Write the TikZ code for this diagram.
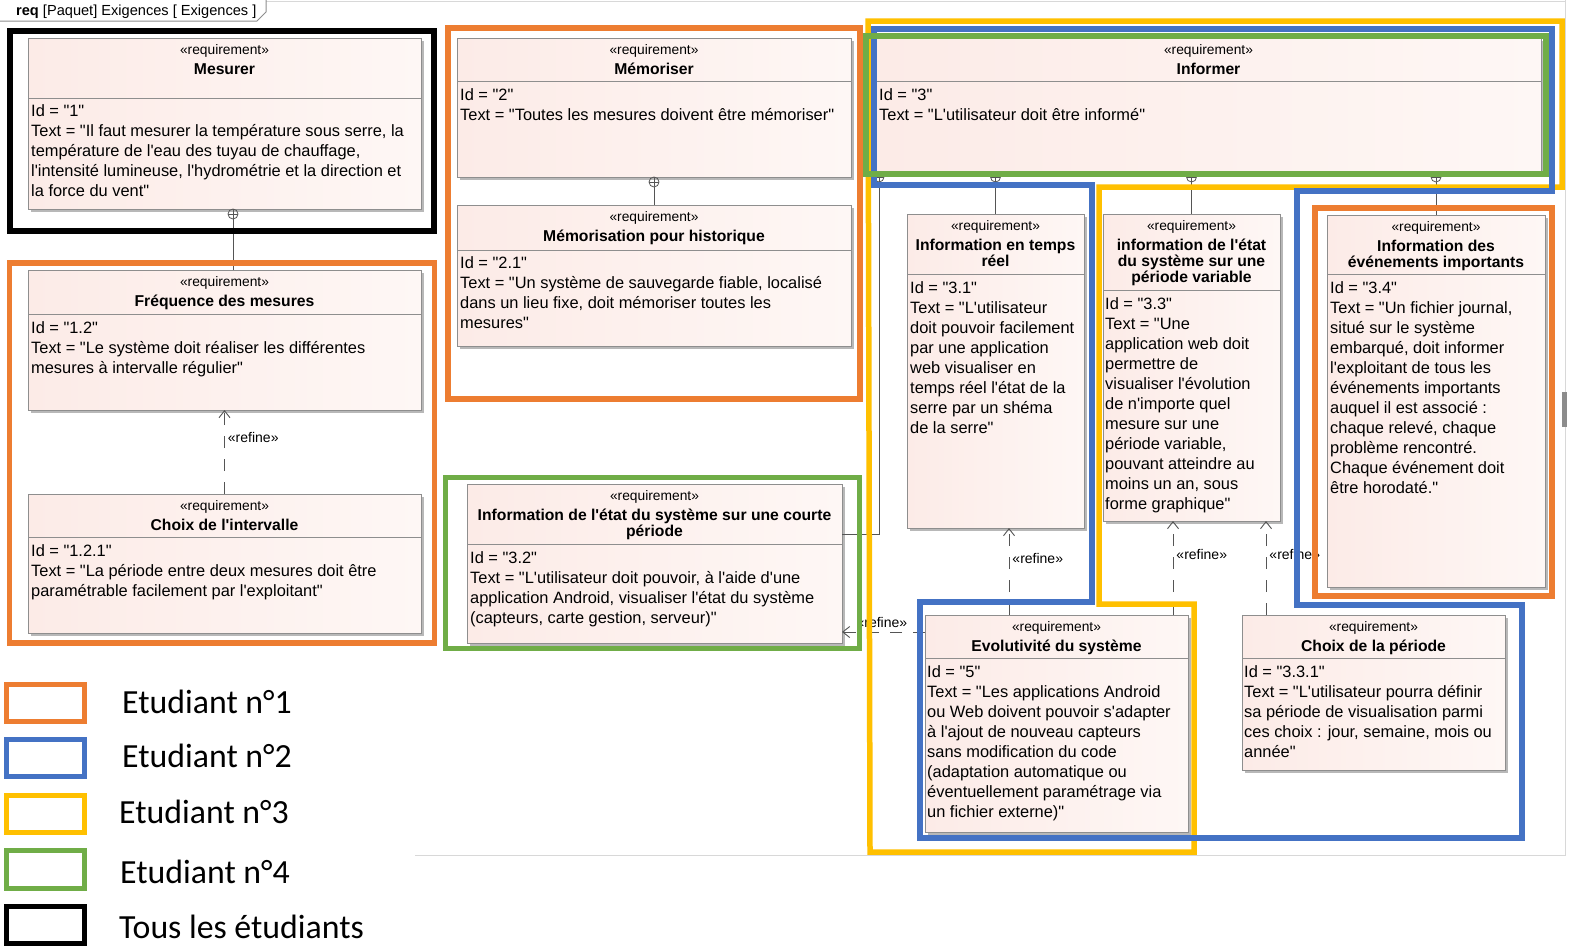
\documentclass[tikz,border=0pt]{standalone}
\usepackage{fontspec}
\setmainfont{Liberation Sans}
\newfontfamily\diagf{Liberation Sans}
\newfontfamily\legf{Carlito}
\usetikzlibrary{arrows.meta,shadows,calc}
\definecolor{hlorange}{HTML}{ED7D31}
\definecolor{hlblue}{HTML}{4472C4}
\definecolor{hlyellow}{HTML}{FFC000}
\definecolor{hlgreen}{HTML}{70AD47}
\definecolor{boxgray}{HTML}{8E8E8E}
\definecolor{reqL}{HTML}{FCEBE7}
\definecolor{reqR}{HTML}{FEF7F5}
\definecolor{conn}{HTML}{555555}
\definecolor{canvasline}{HTML}{D8D8D8}
\newcommand\bodyfont{\diagf\fontsize{16.4}{20}\selectfont\lineskiplimit=-100pt\relax}
\newcommand\titlefont{\diagf\fontsize{15.7}{16}\selectfont\bfseries\lineskiplimit=-100pt\relax}
\newcommand\stereofont{\diagf\fontsize{13.8}{15}\selectfont}
\newcommand\myBS{\rule{0pt}{18pt}}
\newcommand\myTS{\rule{0pt}{16pt}}
\tikzset{
  reqbox/.style={draw=boxgray, line width=1pt, left color=reqL, right color=reqR,
    general shadow={fill=black!28, shadow xshift=2.5pt, shadow yshift=-2.5pt},
    inner sep=0pt, outer sep=0pt, anchor=north west, rectangle},
  divline/.style={draw=boxgray, line width=1pt},
  body/.style={font=\bodyfont, align=left, inner sep=0pt, anchor=north west},
  ttl/.style={font=\titlefont, align=center, inner sep=0pt, anchor=north},
  stereo/.style={font=\stereofont, inner sep=0pt, anchor=base},
  reflabel/.style={font=\diagf\fontsize{14}{16}\selectfont, inner sep=0pt},
  refine/.style={draw=conn, line width=0.9pt, dash pattern=on 12pt off 11pt,
    -{Straight Barb[length=7pt,width=11pt]}},
  cont/.style={draw=conn, line width=0.9pt},
  oplus/.style={circle, draw=conn, line width=0.8pt, minimum size=10pt, inner sep=0pt, outer sep=0pt,
    path picture={\draw[conn, line width=0.8pt] (path picture bounding box.north) -- (path picture bounding box.south)
      (path picture bounding box.east) -- (path picture bounding box.west);}},
  hl/.style={line width=5.5pt, line join=miter},
  leg/.style={font=\legf\fontsize{33.8}{36}\selectfont, anchor=base west, inner sep=0pt},
}
\begin{document}
\begin{tikzpicture}[x=1pt,y=-1pt]
\useasboundingbox (0,0) rectangle (1570,951);
\fill[white] (0,0) rectangle (1570,951);

% canvas frame
\draw[canvasline, line width=1pt] (266,1.5) -- (1565,1.5);
\draw[canvasline, line width=1pt] (1565,0) -- (1565,855) -- (415,855);
\fill[black!45] (1562,392) rectangle (1567,427);

% diagram tab
\draw[boxgray, line width=1pt] (0,21) -- (257,21) -- (266,12) -- (266,0);
\node[font=\diagf\fontsize{14.6}{16}\selectfont, anchor=base west, inner sep=0pt] (tab) at (16,15) {\textbf{req} [Paquet] Exigences [ Exigences ]};

% ---------- Mesurer ----------
\node[reqbox, minimum width=393, minimum height=171] (mesurer) at (28,38) {};
\draw[divline] ([yshift=-60pt]mesurer.north west) -- ([yshift=-60pt]mesurer.north east);
\node[stereo] (mesurer-s) at ([yshift=-16.5pt]mesurer.north) {«requirement»};
\node[ttl] (mesurer-n) at ([yshift=-20.5pt]mesurer.north) {\myTS Mesurer};
\node[body] (mesurer-t) at ([xshift=3pt,yshift=-60pt]mesurer.north west) {\myBS Id = "1"\\Text = "Il faut mesurer la température sous serre, la\\température de l'eau des tuyau de chauffage,\\l'intensité lumineuse, l'hydrométrie et la direction et\\la force du vent"};

% ---------- Frequence ----------
\node[reqbox, minimum width=393, minimum height=140] (freq) at (28,270) {};
\draw[divline] ([yshift=-44pt]freq.north west) -- ([yshift=-44pt]freq.north east);
\node[stereo] (freq-s) at ([yshift=-16.5pt]freq.north) {«requirement»};
\node[ttl] (freq-n) at ([yshift=-20.5pt]freq.north) {\myTS Fréquence des mesures};
\node[body] (freq-t) at ([xshift=3pt,yshift=-45pt]freq.north west) {\myBS Id = "1.2"\\Text = "Le système doit réaliser les différentes\\mesures à intervalle régulier"};

% ---------- Choix intervalle ----------
\node[reqbox, minimum width=393, minimum height=139] (choixint) at (28,494) {};
\draw[divline] ([yshift=-43pt]choixint.north west) -- ([yshift=-43pt]choixint.north east);
\node[stereo] (choixint-s) at ([yshift=-16.5pt]choixint.north) {«requirement»};
\node[ttl] (choixint-n) at ([yshift=-20.5pt]choixint.north) {\myTS Choix de l'intervalle};
\node[body] (choixint-t) at ([xshift=3pt,yshift=-44pt]choixint.north west) {\myBS Id = "1.2.1"\\Text = "La période entre deux mesures doit être\\paramétrable facilement par l'exploitant"};

% ---------- Memoriser ----------
\node[reqbox, minimum width=394, minimum height=139] (memo) at (457,38) {};
\draw[divline] ([yshift=-43pt]memo.north west) -- ([yshift=-43pt]memo.north east);
\node[stereo] (memo-s) at ([yshift=-16.5pt]memo.north) {«requirement»};
\node[ttl] (memo-n) at ([yshift=-20.5pt]memo.north) {\myTS Mémoriser};
\node[body] (memo-t) at ([xshift=3pt,yshift=-44pt]memo.north west) {\myBS Id = "2"\\Text = "Toutes les mesures doivent être mémoriser"};

% ---------- Memorisation historique ----------
\node[reqbox, minimum width=394, minimum height=141] (memhist) at (457,205) {};
\draw[divline] ([yshift=-45pt]memhist.north west) -- ([yshift=-45pt]memhist.north east);
\node[stereo] (memhist-s) at ([yshift=-16.5pt]memhist.north) {«requirement»};
\node[ttl] (memhist-n) at ([yshift=-20.5pt]memhist.north) {\myTS Mémorisation pour historique};
\node[body] (memhist-t) at ([xshift=3pt,yshift=-45pt]memhist.north west) {\myBS Id = "2.1"\\Text = "Un système de sauvegarde fiable, localisé\\dans un lieu fixe, doit mémoriser toutes les\\mesures"};

% ---------- 3.2 ----------
\node[reqbox, minimum width=375, minimum height=159] (info32) at (467,484) {};
\draw[divline] ([yshift=-60pt]info32.north west) -- ([yshift=-60pt]info32.north east);
\node[stereo] (info32-s) at ([yshift=-16.5pt]info32.north) {«requirement»};
\node[ttl] (info32-n) at ([yshift=-20.5pt]info32.north) {\myTS Information de l'état du système sur une courte\\période};
\node[body] (info32-t) at ([xshift=3pt,yshift=-61pt]info32.north west) {\myBS Id = "3.2"\\Text = "L'utilisateur doit pouvoir, à l'aide d'une\\application Android, visualiser l'état du système\\(capteurs, carte gestion, serveur)"};

% ---------- Informer ----------
\node[reqbox, minimum width=665, minimum height=134] (informer) at (876,38) {};
\draw[divline] ([yshift=-43pt]informer.north west) -- ([yshift=-43pt]informer.north east);
\node[stereo] (informer-s) at ([yshift=-16.5pt]informer.north) {«requirement»};
\node[ttl] (informer-n) at ([yshift=-20.5pt]informer.north) {\myTS Informer};
\node[body] (informer-t) at ([xshift=3pt,yshift=-44pt]informer.north west) {\myBS Id = "3"\\Text = "L'utilisateur doit être informé"};

% ---------- 3.1 ----------
\node[reqbox, minimum width=177, minimum height=314] (r31) at (907,214) {};
\draw[divline] ([yshift=-60pt]r31.north west) -- ([yshift=-60pt]r31.north east);
\node[stereo] (r31-s) at ([yshift=-16.5pt]r31.north) {«requirement»};
\node[ttl] (r31-n) at ([yshift=-20.5pt]r31.north) {\myTS Information en temps\\réel};
\node[body] (r31-t) at ([xshift=3pt,yshift=-61pt]r31.north west) {\myBS Id = "3.1"\\Text = "L'utilisateur\\doit pouvoir facilement\\par une application\\web visualiser en\\temps réel l'état de la\\serre par un shéma\\de la serre"};

% ---------- 3.3 ----------
\node[reqbox, minimum width=177, minimum height=307] (r33) at (1103,214) {};
\draw[divline] ([yshift=-76pt]r33.north west) -- ([yshift=-76pt]r33.north east);
\node[stereo] (r33-s) at ([yshift=-16.5pt]r33.north) {«requirement»};
\node[ttl] (r33-n) at ([yshift=-20.5pt]r33.north) {\myTS information de l'état\\du système sur une\\période variable};
\node[body] (r33-t) at ([xshift=2pt,yshift=-77pt]r33.north west) {\myBS Id = "3.3"\\Text = "Une\\application web doit\\permettre de\\visualiser l'évolution\\de n'importe quel\\mesure sur une\\période variable,\\pouvant atteindre au\\moins un an, sous\\forme graphique"};

% ---------- 3.4 ----------
\node[reqbox, minimum width=218, minimum height=372] (r34) at (1327,215) {};
\draw[divline] ([yshift=-59pt]r34.north west) -- ([yshift=-59pt]r34.north east);
\node[stereo] (r34-s) at ([yshift=-16.5pt]r34.north) {«requirement»};
\node[ttl] (r34-n) at ([yshift=-20.5pt]r34.north) {\myTS Information des\\événements importants};
\node[body] (r34-t) at ([xshift=3pt,yshift=-60pt]r34.north west) {\myBS Id = "3.4"\\Text = "Un fichier journal,\\situé sur le système\\embarqué, doit informer\\l'exploitant de tous les\\événements importants\\auquel il est associé :\\chaque relevé, chaque\\problème rencontré.\\Chaque événement doit\\être horodaté."};

% ---------- Evolutivite ----------
\node[reqbox, minimum width=263, minimum height=217] (evo) at (925,615) {};
\draw[divline] ([yshift=-43pt]evo.north west) -- ([yshift=-43pt]evo.north east);
\node[stereo] (evo-s) at ([yshift=-16.5pt]evo.north) {«requirement»};
\node[ttl] (evo-n) at ([yshift=-20.5pt]evo.north) {\myTS Evolutivité du système};
\node[body] (evo-t) at ([xshift=2pt,yshift=-44pt]evo.north west) {\myBS Id = "5"\\Text = "Les applications Android\\ou Web doivent pouvoir s'adapter\\à l'ajout de nouveau capteurs\\sans modification du code\\(adaptation automatique ou\\éventuellement paramétrage via\\un fichier externe)"};

% ---------- Choix periode ----------
\node[reqbox, minimum width=263, minimum height=155] (choixper) at (1242,615) {};
\draw[divline] ([yshift=-43pt]choixper.north west) -- ([yshift=-43pt]choixper.north east);
\node[stereo] (choixper-s) at ([yshift=-16.5pt]choixper.north) {«requirement»};
\node[ttl] (choixper-n) at ([yshift=-20.5pt]choixper.north) {\myTS Choix de la période};
\node[body] (choixper-t) at ([xshift=2pt,yshift=-44pt]choixper.north west) {\myBS Id = "3.3.1"\\Text = "L'utilisateur pourra définir\\sa période de visualisation parmi\\ces choix : jour, semaine, mois ou\\année"};

% ---------- containment ----------
\node[oplus, anchor=north] (op1) at ([xshift=8.5pt]mesurer.south) {};
\draw[cont] (op1.south) -- (op1.south |- freq.north);
\node[oplus, anchor=north] (op2) at (memo.south) {};
\draw[cont] (op2.south) -- (memhist.north);
\node[oplus, anchor=north] (op31) at (informer.south -| r31.north) {};
\draw[cont] (op31.south) -- (r31.north);
\node[oplus, anchor=north] (op33) at (informer.south -| r33.north) {};
\draw[cont] (op33.south) -- (r33.north);
\node[oplus, anchor=north] (op34) at (informer.south -| r34.north) {};
\draw[cont] (op34.south) -- (op34.south |- r34.north);
\node[oplus, anchor=north] (op32) at ([xshift=3pt]informer.south west) {};
\draw[cont] (op32.south) |- ([yshift=-50pt]info32.north east);

% ---------- refine ----------
\draw[refine] (choixint.north) -- (freq.south) node[reflabel, pos=0.67, anchor=west, xshift=3pt] (rl1) {«refine»};
\coordinate (e31) at ([xshift=84pt]evo.north west);
\draw[refine] (e31) -- (e31 |- r31.south) node[reflabel, pos=0.65, anchor=west, xshift=3pt] (rl2) {«refine»};
\coordinate (e33) at ([xshift=248pt]evo.north west);
\draw[refine] (e33) -- (e33 |- r33.south) node[reflabel, pos=0.64, anchor=west, xshift=3pt] (rl3) {«refine»};
\coordinate (c33) at ([xshift=24pt]choixper.north west);
\draw[refine] (c33) -- (c33 |- r33.south) node[reflabel, pos=0.64, anchor=west, xshift=3pt] (rl4) {«refine»};
\coordinate (e32) at ([yshift=-17pt]evo.north west);
\draw[refine] (e32) -- (e32 -| info32.east) node[reflabel, pos=0.52, above=4pt] (rl5) {«refine»};

% ---------- highlights ----------
\draw[hl, hlyellow] (868,21) -- (1562,21) -- (1562,187) -- (1099,187) -- (1099,604) -- (1194,604) -- (1194,852) -- (870,852) -- cycle;
\draw[hl, hlblue] (874,29) -- (1552,29) -- (1552,191) -- (1297,191) -- (1297,605) -- (1522,605) -- (1522,838) -- (920,838) -- (920,602) -- (1092,602) -- (1092,185) -- (874,185) -- cycle;
\draw[hl, hlgreen] (866,36) rectangle (1546,174);
\draw[hl, hlgreen] (445.5,477.5) rectangle (859.5,648.5);
\draw[hl, hlorange] (9.5,263) rectangle (434.5,643);
\draw[hl, hlorange] (448,28) rectangle (860,399);
\draw[hl, hlorange] (1315,208) rectangle (1552,596);
\draw[hl, black] (10,31) rectangle (434,231);

% ---------- legend ----------
\draw[hl, hlorange] (6.5,684.5) rectangle (84.5,721.5);
\draw[hl, hlblue] (6.5,739.5) rectangle (84.5,776.5);
\draw[hl, hlyellow] (6.5,795.5) rectangle (84.5,832.5);
\draw[hl, hlgreen] (6.5,850.5) rectangle (84.5,888.5);
\draw[hl, black] (6.5,906.5) rectangle (84.5,943.5);
\node[leg] (leg1) at (122,713) {Etudiant n°1};
\node[leg] (leg2) at (122,767) {Etudiant n°2};
\node[leg] (leg3) at (119,823) {Etudiant n°3};
\node[leg] (leg4) at (120,883) {Etudiant n°4};
\node[leg] (leg5) at (119,938) {Tous les étudiants};
\end{tikzpicture}
\end{document}
